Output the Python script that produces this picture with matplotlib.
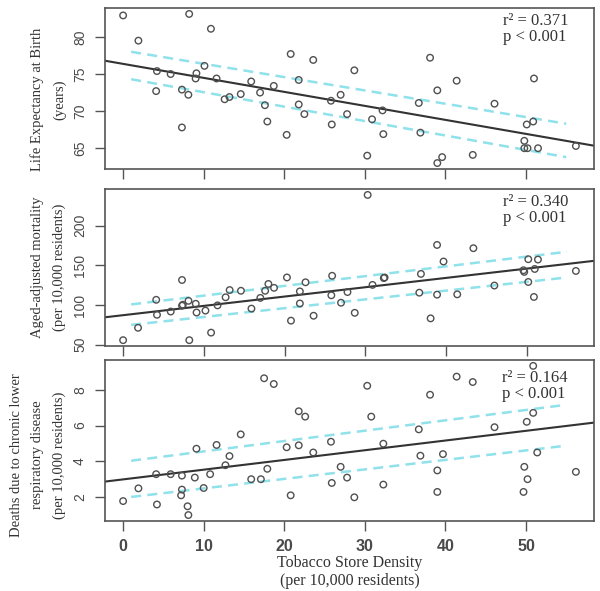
import numpy as np
import matplotlib
matplotlib.use("Agg")
import matplotlib.pyplot as plt

# Tobacco store density (per 10,000 residents) and outcomes
density_le = [0, 1.9, 4.2, 4.1, 5.9, 7.3, 7.3, 8.2, 8.1, 9.0, 9.1, 10.1, 10.9, 11.6, 12.6,
              13.2, 14.6, 15.9, 17.0, 17.6, 17.9, 18.7, 20.3, 20.8, 21.8, 21.8, 22.5, 23.6,
              25.8, 25.9, 27.0, 27.8, 28.7, 30.3, 30.9, 32.2, 32.3, 36.7, 36.9, 38.1, 39.0,
              39.0, 39.6, 41.4, 43.4, 46.1, 49.8, 49.8, 50.2, 50.1, 50.9, 51.0, 51.5, 56.2]
life_exp = [82.9, 79.5, 75.4, 72.7, 75.0, 72.9, 67.8, 83.1, 72.2, 74.4, 75.1, 76.1, 81.1,
            74.4, 71.6, 71.9, 72.3, 74.0, 72.5, 70.8, 68.6, 73.4, 66.8, 77.7, 74.2, 70.9,
            69.6, 76.9, 71.4, 68.2, 72.2, 69.6, 75.5, 64.0, 68.9, 70.1, 66.9, 71.1, 67.1,
            77.2, 72.8, 63.0, 63.8, 74.1, 64.1, 71.0, 66.0, 65.0, 65.0, 68.2, 68.6, 74.4,
            65.0, 65.3]

density_mort = [0, 1.85, 4.1, 4.2, 5.9, 7.3, 7.3, 7.4, 8.1, 8.2, 9.0, 9.1, 10.2, 10.9, 11.7,
                12.7, 13.2, 14.6, 15.9, 17.0, 17.6, 18.0, 18.7, 20.3, 20.8, 21.9, 21.9, 22.6,
                23.6, 25.9, 25.8, 27.0, 27.8, 28.7, 30.3, 30.9, 32.3, 32.4, 36.9, 36.7, 38.1,
                38.9, 38.9, 39.7, 41.4, 43.4, 46.0, 49.7, 49.6, 50.2, 50.2, 51.0, 51.4, 50.9,
                56.1]
mortality = [55.7, 71.3, 106.6, 87.7, 91.8, 131.6, 99.2, 100.4, 105.3, 55.7, 101.6, 90.6,
             93.0, 65.2, 99.6, 109.8, 118.9, 118.0, 95.5, 109.0, 118.0, 126.6, 121.7, 134.8,
             80.3, 117.2, 102.0, 128.7, 86.5, 136.9, 112.3, 102.9, 116.4, 90.2, 238.9, 125.4,
             134.0, 134.8, 139.3, 115.6, 83.2, 175.8, 113.1, 154.9, 113.5, 171.7, 124.6,
             141.8, 143.9, 157.8, 129.1, 145.5, 157.4, 110.2, 143.0]

density_clrd = [0, 1.9, 4.1, 4.2, 5.9, 7.3, 7.3, 7.2, 8.0, 8.1, 8.9, 9.1, 10.0, 10.8, 11.6,
                12.7, 13.2, 14.6, 15.9, 17.1, 17.5, 17.9, 18.7, 20.3, 20.8, 21.8, 21.8, 22.6,
                23.6, 25.8, 25.9, 27.0, 27.8, 28.7, 30.3, 30.8, 32.3, 32.3, 36.7, 36.9, 38.1,
                39.0, 39.0, 39.7, 41.4, 43.4, 46.1, 49.8, 49.7, 50.1, 50.2, 50.9, 50.9, 51.4,
                56.2]
clrd_deaths = [1.79, 2.5, 3.29, 1.6, 3.29, 3.21, 2.43, 2.11, 1.5, 1.01, 3.1, 4.71, 2.52, 3.29,
               4.92, 3.79, 4.3, 5.51, 3.01, 3.01, 8.64, 3.59, 8.32, 4.79, 2.11, 6.8, 4.9, 6.5,
               4.5, 5.1, 2.8, 3.7, 3.1, 2.0, 8.22, 6.5, 4.99, 2.71, 5.79, 4.32, 7.72, 3.5, 2.3,
               4.41, 8.73, 8.43, 5.91, 3.7, 2.3, 6.21, 3.01, 9.33, 6.71, 4.5, 3.42]

# dashed band ends (x from, x to) and values
band_x = [1, 55]
le_upper = [78.0, 68.3]
le_lower = [74.3, 63.8]
mort_upper = [100.8, 167.2]
mort_lower = [75.0, 134.8]
clrd_upper = [4.04, 7.16]
clrd_lower = [2.02, 4.88]

ylabels = ["Life Expectancy at Birth\n(years)",
           "Aged-adjusted mortality\n(per 10,000 residents)",
           "Deaths due to chronic lower\nrespiratory disease\n(per 10,000 residents)"]
stats = ["r\u00b2 = 0.371\np < 0.001", "r\u00b2 = 0.340\np < 0.001", "r\u00b2 = 0.164\np < 0.001"]
yticks = [[65, 70, 75, 80], [50, 100, 150, 200], [2, 4, 6, 8]]
xticks = [0, 10, 20, 30, 40, 50]

panels = [
    (density_le, life_exp, le_upper, le_lower),
    (density_mort, mortality, mort_upper, mort_lower),
    (density_clrd, clrd_deaths, clrd_upper, clrd_lower),
]

fig = plt.figure(figsize=(6, 5.91), dpi=100)
# [left, bottom, width, height] of each panel in figure fraction
rects = [[0.175, 0.714, 0.815, 0.2725],
         [0.175, 0.4146, 0.815, 0.2654],
         [0.175, 0.1184, 0.815, 0.2726]]
stat_y = [0.97, 0.97, 0.94]
label_y = [0.43, 0.5, 0.41]
serif = "Liberation Serif"
sans = "Liberation Sans"
box_col = "#555555"

for i, (x, y, up, lo) in enumerate(panels):
    ax = fig.add_axes(rects[i])
    x = np.array(x)
    y = np.array(y)
    ax.scatter(x, y, s=22, facecolors="none", edgecolors="#505050", linewidths=1.0, zorder=3)

    # R style 4% padding around the data
    xr = x.max() - x.min()
    yr = y.max() - y.min()
    ax.set_xlim(x.min() - 0.04 * xr, x.max() + 0.04 * xr)
    ax.set_ylim(y.min() - 0.04 * yr, y.max() + 0.04 * yr)

    # least squares fit line across the full plot width
    m, c = np.polyfit(x, y, 1)
    xl = np.array(ax.get_xlim())
    ax.plot(xl, m * xl + c, color="#333333", lw=1.5, zorder=2)

    ax.plot(band_x, up, color="#8fe1ea", lw=1.8, dashes=(4, 2.5), zorder=1)
    ax.plot(band_x, lo, color="#8fe1ea", lw=1.8, dashes=(4, 2.5), zorder=1)

    ax.set_xticks(xticks)
    ax.set_yticks(yticks[i])
    ax.tick_params(direction="out", length=7, width=1, color=box_col, labelcolor="#4a4a4a")
    ax.tick_params(axis="y", pad=6)
    ax.tick_params(axis="x", pad=6)
    for lab in ax.get_yticklabels():
        lab.set_rotation(90)
        lab.set_va("center")
        lab.set_fontfamily(sans)
        lab.set_fontsize(10)
    if i < 2:
        ax.set_xticklabels([])
    else:
        for lab in ax.get_xticklabels():
            lab.set_fontfamily(sans)
            lab.set_fontsize(11.5)
            lab.set_fontweight("bold")
        ax.set_xlabel("Tobacco Store Density\n(per 10,000 residents)", family=serif,
                      fontsize=11.5, color="#333333", labelpad=1, linespacing=1.1)

    for sp in ax.spines.values():
        sp.set_color(box_col)
        sp.set_linewidth(1.2)

    ax.set_ylabel(ylabels[i], family=serif, fontsize=10.5, color="#333333", linespacing=1.8)
    ax.yaxis.set_label_coords(-0.08, label_y[i])

    ax.text(0.947, stat_y[i], stats[i], transform=ax.transAxes, ha="right", va="top",
            multialignment="left", family=serif, fontsize=12, color="#333333",
            linespacing=1.05)

fig.savefig("out.png", dpi=100)
